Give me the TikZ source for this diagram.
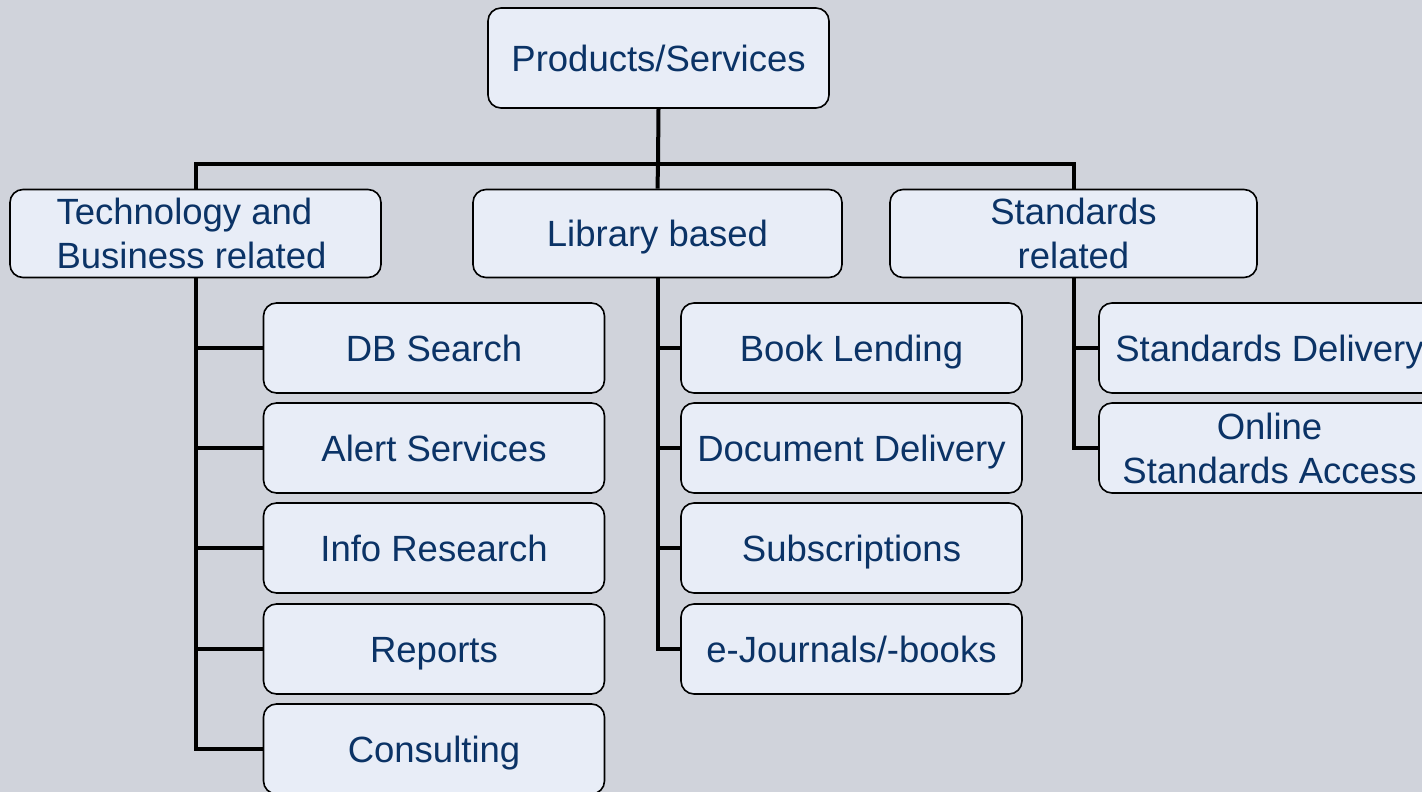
\documentclass[tikz,border=0pt]{standalone}
\usepackage{fontspec}
\setmainfont{Liberation Sans}
\definecolor{bg}{RGB}{208,211,219}
\definecolor{boxfill}{RGB}{232,237,247}
\definecolor{txt}{RGB}{11,51,102}
\tikzset{
  box/.style={draw=black, line width=1.6pt, fill=boxfill, rounded corners=13pt,
    text=txt, font=\fontsize{36.5}{44}\selectfont, align=center, inner sep=0pt},
  oneline/.style={text height=26pt, text depth=0pt},
  lvl/.style={box, minimum width=369pt, minimum height=88pt},
  leaf/.style={box, minimum width=341pt, minimum height=90pt},
  conn/.style={draw=black, line width=4pt}
}
\begin{document}
\begin{tikzpicture}[x=1pt,y=-1pt]
\fill[bg] (0,0) rectangle (1422,792);
\useasboundingbox (0,0) rectangle (1422,792);
\clip (0,0) rectangle (1422,792);
% nodes
\node[box, oneline, minimum width=341pt, minimum height=100pt] (root) at (658.5,58) {Products/Services};
\node[lvl, minimum width=371pt] (tech) at (195.5,233.5) {};
\node[text=txt, font=\fontsize{36.5}{44}\selectfont, align=left, inner sep=0pt] (techtxt) at (191.5,233.5) {Technology and\\Business related};
\node[lvl, oneline] (lib) at (657.5,233.5) {Library based};
\node[lvl, minimum width=367pt] (std) at (1073.5,233.5) {Standards\\related};
% connectors level 1
\coordinate (j) at (658,164);
\draw[conn] (root.south) -- (j);
\draw[conn] (tech.north) |- (j) -| (std.north);
\draw[conn] (j) -- (lib.north);
% tech children
\node[leaf, oneline] (db) at (434,348) {DB Search};
\node[leaf, oneline] (alert) at (434,448) {Alert Services};
\node[leaf, oneline] (info) at (434,548) {Info Research};
\node[leaf, oneline] (rep) at (434,649) {Reports};
\node[leaf, oneline] (cons) at (434,749) {Consulting};
% lib children
\node[leaf, oneline] (book) at (851.5,348) {Book Lending};
\node[leaf, oneline] (doc) at (851.5,448) {Document Delivery};
\node[leaf, oneline] (subs) at (851.5,548) {Subscriptions};
\node[leaf, oneline] (ej) at (851.5,649) {e-Journals/-books};
% std children
\node[leaf, oneline] (sdel) at (1269.5,348) {Standards Delivery};
\node[leaf] (onl) at (1269.5,448) {Online\\Standards Access};
% child connectors
\foreach \c in {db,alert,info,rep,cons}{\draw[conn] (tech.south) |- (\c.west);}
\foreach \c in {book,doc,subs,ej}{\draw[conn] (lib.south) |- (\c.west);}
\foreach \c in {sdel,onl}{\draw[conn] (std.south) |- (\c.west);}
\end{tikzpicture}
\end{document}
